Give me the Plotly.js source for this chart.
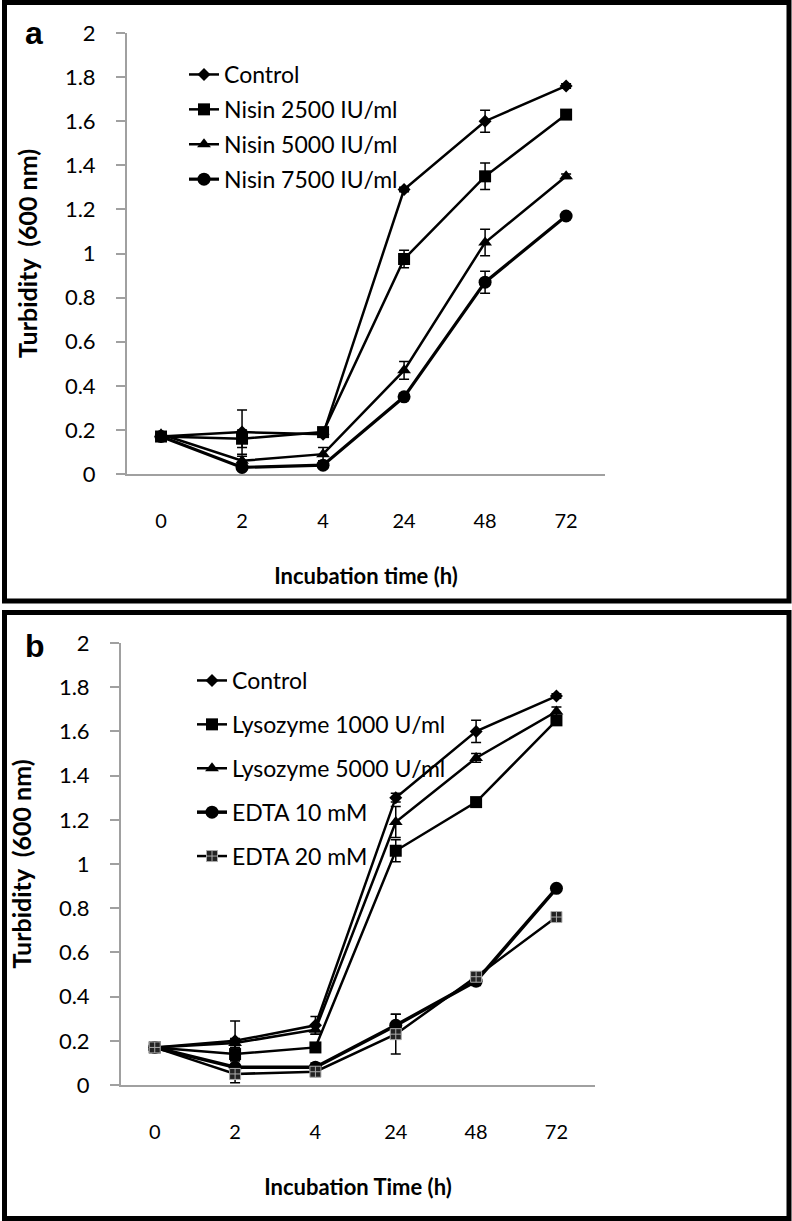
<!DOCTYPE html>
<html>
<head>
<meta charset="utf-8">
<script src="https://cdn.plot.ly/plotly-3.0.1.min.js"></script>
<style>
  body { margin: 0; background: #fff; }
  #chart { width: 792px; height: 1221px; }
</style>
</head>
<body>
<div id="chart"></div>
<script>
// incubation times (category axis)
let times = ['0', '2', '4', '24', '48', '72'];

// panel a - nisin
let ctrlA = [0.17, 0.19, 0.18, 1.29, 1.60, 1.76];
let nis2500 = [0.17, 0.16, 0.19, 0.975, 1.35, 1.63];
let nis5000 = [0.18, 0.06, 0.09, 0.47, 1.05, 1.35];
let nis7500 = [0.17, 0.03, 0.04, 0.35, 0.87, 1.17];
let ctrlAErr = [0.01, 0.10, 0.01, 0.01, 0.05, 0.01];
let nis2500Err = [0.01, 0.04, 0.01, 0.04, 0.06, 0.01];
let nis5000Err = [0.01, 0.02, 0.03, 0.04, 0.06, 0.01];
let nis7500Err = [0.01, 0.01, 0.01, 0.01, 0.05, 0.01];

// panel b - lysozyme / EDTA
let ctrlB = [0.17, 0.20, 0.27, 1.30, 1.60, 1.76];
let lys1000 = [0.17, 0.14, 0.17, 1.06, 1.28, 1.65];
let lys5000 = [0.17, 0.19, 0.25, 1.19, 1.48, 1.69];
let edta10 = [0.17, 0.08, 0.08, 0.27, 0.47, 0.89];
let edta20 = [0.17, 0.05, 0.06, 0.23, 0.49, 0.76];
let ctrlBErr = [0.01, 0.09, 0.04, 0.02, 0.05, 0.01];
let lys1000Err = [0.01, 0.03, 0.02, 0.05, 0.02, 0.02];
let lys5000Err = [0.01, 0.02, 0.02, 0.07, 0.02, 0.02];
let edta10Err = [0.01, 0.01, 0.02, 0.05, 0.02, 0.01];
let edta20Err = [0.01, 0.04, 0.02, 0.09, 0.02, 0.01];

const W = 792, H = 1221;
const px = (x) => x / W;
const py = (y) => 1 - y / H;

function series(name, y, err, symbol, size, width, xa, ya, leg, grp, extra = {}) {
  return Object.assign({
    type: 'scatter', mode: 'lines+markers', name: name,
    x: times, y: y, xaxis: xa, yaxis: ya, legend: leg, legendgroup: grp,
    line: { color: 'black', width: width },
    marker: { symbol: symbol, size: size, color: 'black' },
    error_y: { type: 'data', array: err, visible: true, color: 'black', thickness: 1.5, width: 5 },
    cliponaxis: false
  }, extra);
}

let data = [
  series('Control', ctrlA, ctrlAErr, 'diamond', 10, 2.5, 'x', 'y', 'legend', 'a1'),
  series('Nisin 2500 IU/ml', nis2500, nis2500Err, 'square', 12, 2.5, 'x', 'y', 'legend', 'a2'),
  series('Nisin 5000 IU/ml', nis5000, nis5000Err, 'triangle-up', 12, 2.5, 'x', 'y', 'legend', 'a3'),
  series('Nisin 7500 IU/ml', nis7500, nis7500Err, 'circle', 13, 3.2, 'x', 'y', 'legend', 'a4'),

  series('Control', ctrlB, ctrlBErr, 'diamond', 10, 2.5, 'x2', 'y2', 'legend2', 'b1'),
  series('Lysozyme 1000 U/ml', lys1000, lys1000Err, 'square', 12, 2.5, 'x2', 'y2', 'legend2', 'b2'),
  series('Lysozyme 5000 U/ml', lys5000, lys5000Err, 'triangle-up', 12, 2.5, 'x2', 'y2', 'legend2', 'b3'),
  series('EDTA 10 mM', edta10, edta10Err, 'circle', 13, 3.5, 'x2', 'y2', 'legend2', 'b4'),
  series('EDTA 20 mM', edta20, edta20Err, 'square-cross', 11, 2.5, 'x2', 'y2', 'legend2', 'b5',
    { marker: { symbol: 'square-cross', size: 11, color: '#222', line: { color: '#aaa', width: 1 } } })
];

const xTickFont = { family: 'Lato, sans-serif', size: 20, color: 'black' };
const yTickFont = { family: 'Lato, sans-serif', size: 22, color: 'black' };
const titleFont = { family: 'Lato, sans-serif', size: 22, color: 'black', weight: 'bold' };
const yTitleFont = { family: 'Lato, sans-serif', size: 25, color: 'black', weight: 'bold' };

function xAxis(domain, title, anchor) {
  return {
    domain: domain, anchor: anchor, type: 'category', range: [-0.42, 5.48],
    showline: true, linecolor: '#a0a0a0', linewidth: 2, showgrid: false, zeroline: false,
    ticks: '', ticklabelstandoff: 28, tickfont: xTickFont, fixedrange: true,
    title: { text: title, font: titleFont, standoff: 38 }
  };
}

function yAxis(domain, anchor) {
  return {
    domain: domain, anchor: anchor, range: [0, 2], dtick: 0.2, tick0: 0,
    showline: true, linecolor: '#a0a0a0', linewidth: 2, showgrid: false, zeroline: false,
    ticks: 'outside', ticklen: 9, tickwidth: 2, tickcolor: '#a0a0a0',
    ticklabelstandoff: 16, tickfont: yTickFont, fixedrange: true,
    title: { text: 'Turbidity\u00a0 (600 nm)', font: yTitleFont, standoff: 20 }
  };
}

const legendFont = { family: 'Lato, sans-serif', size: 23, color: 'black' };

let layout = {
  width: W, height: H, autosize: false,
  margin: { l: 0, r: 0, t: 0, b: 0 },
  paper_bgcolor: 'white', plot_bgcolor: 'white',
  xaxis: xAxis([px(127), px(605)], 'Incubation time (h)', 'y'),
  yaxis: yAxis([py(474), py(33)], 'x'),
  xaxis2: xAxis([px(121), px(595)], 'Incubation Time (h)', 'y2'),
  yaxis2: yAxis([py(1085), py(643)], 'x2'),
  legend: {
    x: px(184), y: py(53), xanchor: 'left', yanchor: 'top',
    bgcolor: 'rgba(0,0,0,0)', font: legendFont, traceorder: 'grouped', tracegroupgap: 2
  },
  legend2: {
    x: px(192), y: py(659), xanchor: 'left', yanchor: 'top',
    bgcolor: 'rgba(0,0,0,0)', font: legendFont, traceorder: 'grouped', tracegroupgap: 11
  },
  shapes: [
    { type: 'rect', xref: 'paper', yref: 'paper', x0: px(4.5), x1: px(789), y0: py(601), y1: py(2.5),
      line: { color: 'black', width: 5 } },
    { type: 'rect', xref: 'paper', yref: 'paper', x0: px(4.5), x1: px(789), y0: py(1218.5), y1: py(612.5),
      line: { color: 'black', width: 5 } }
  ],
  annotations: [
    { text: '<b>a</b>', xref: 'paper', yref: 'paper', x: px(34), y: py(33), xanchor: 'center', yanchor: 'middle',
      showarrow: false, font: { family: 'Liberation Sans, Arial, sans-serif', size: 32, color: 'black' } },
    { text: '<b>b</b>', xref: 'paper', yref: 'paper', x: px(35), y: py(646), xanchor: 'center', yanchor: 'middle',
      showarrow: false, font: { family: 'Liberation Sans, Arial, sans-serif', size: 32, color: 'black' } }
  ],
  showlegend: true
};

Plotly.newPlot('chart', data, layout, { displayModeBar: false, staticPlot: true });
</script>
</body>
</html>
